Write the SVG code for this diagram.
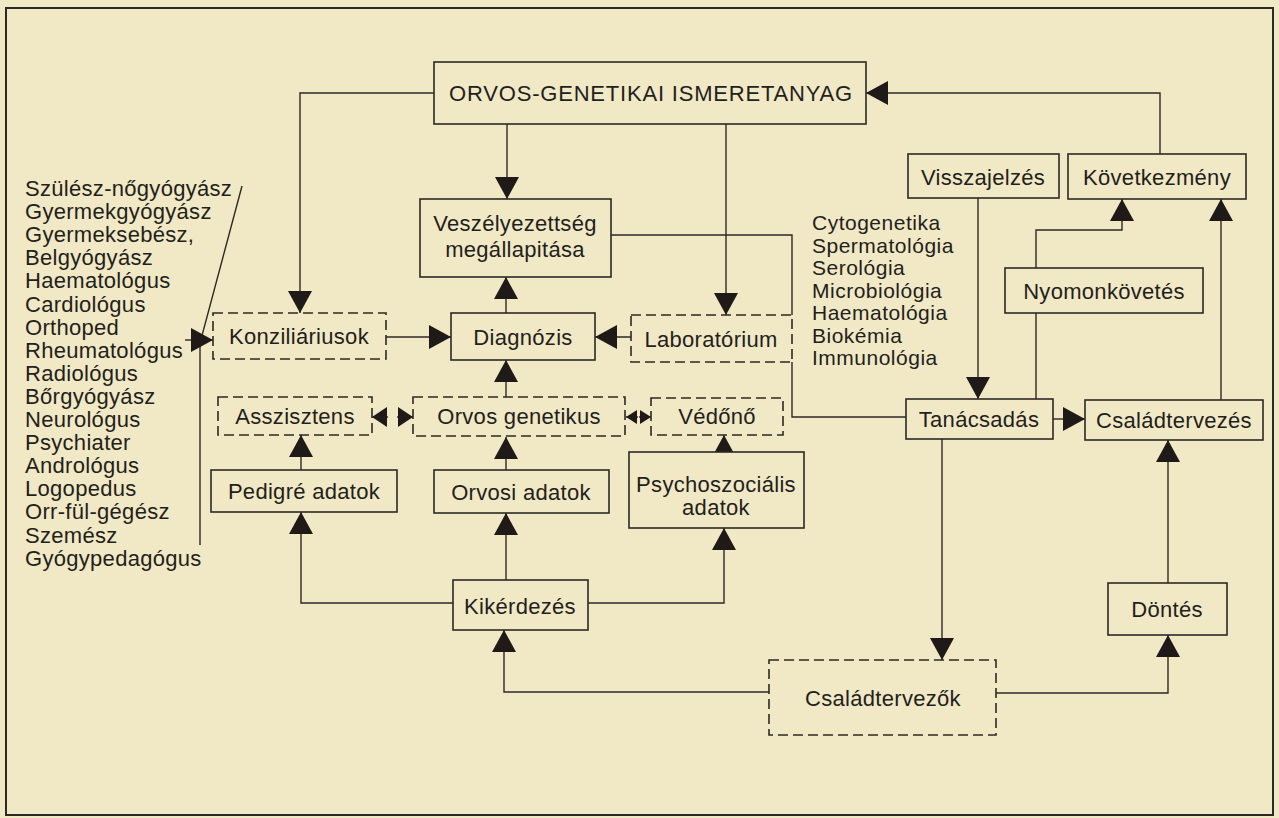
<svg xmlns="http://www.w3.org/2000/svg" width="1279" height="818" viewBox="0 0 1279 818">
<defs>
<style>
.box{fill:#f1e8c5;stroke:#2e2924;stroke-width:1.6}
.dash{stroke-dasharray:10 5}
.t{font-family:"Liberation Sans",Arial,Helvetica,sans-serif;font-size:22px;fill:#231f1c;text-anchor:middle;letter-spacing:0.3px}
.l{text-anchor:start}
.s{font-size:21px;letter-spacing:0.5px}
.c{fill:none;stroke:#2e2924;stroke-width:1.4}
</style>
<marker id="ah" markerUnits="userSpaceOnUse" markerWidth="22" markerHeight="24" viewBox="0 0 22 24" refX="22" refY="12" orient="auto"><path d="M0,0 L22,12 L0,24 z" fill="#1f1a17"/></marker>
<marker id="sm" markerUnits="userSpaceOnUse" markerWidth="15" markerHeight="20" viewBox="0 0 15 20" refX="15" refY="10" orient="auto"><path d="M0,0 L15,10 L0,20 z" fill="#1f1a17"/></marker>
<marker id="xs" markerUnits="userSpaceOnUse" markerWidth="11" markerHeight="14" viewBox="0 0 11 14" refX="11" refY="7" orient="auto"><path d="M0,0 L11,7 L0,14 z" fill="#1f1a17"/></marker>
</defs>
<rect x="0" y="0" width="1279" height="818" fill="#f1e8c5"/>
<rect x="6" y="8" width="1267" height="807" fill="none" stroke="#2e2924" stroke-width="2"/>

<g id="connectors">
<path class="c" d="M434,93 H300 V313" marker-end="url(#ah)"/>
<path class="c" d="M507,124 V199" marker-end="url(#ah)"/>
<path class="c" d="M726,124 V315" marker-end="url(#ah)"/>
<path class="c" d="M1160,154 V93 H866" marker-end="url(#ah)"/>
<path class="c" d="M611,235 H792 V315 M792,362 V417 H906"/>
<path class="c" d="M506,313 V277" marker-end="url(#ah)"/>
<path class="c" d="M386,337 H451" marker-end="url(#ah)"/>
<path class="c" d="M631,337 H595" marker-end="url(#ah)"/>
<path class="c" d="M506,397 V360" marker-end="url(#ah)"/>
<path class="c" d="M388,417 H372" marker-end="url(#sm)"/>
<path class="c" d="M397,417 H413" marker-end="url(#sm)"/>
<path class="c" d="M638,417 H626" marker-end="url(#xs)"/>
<path class="c" d="M639,417 H651" marker-end="url(#xs)"/>
<path class="c" d="M301,470 V435" marker-end="url(#ah)"/>
<path class="c" d="M506,470 V437" marker-end="url(#ah)"/>
<path class="c" d="M724,452 V435" marker-end="url(#ah)"/>
<path class="c" d="M453,603 H301 V512" marker-end="url(#ah)"/>
<path class="c" d="M506,580 V513" marker-end="url(#ah)"/>
<path class="c" d="M588,603 H724 V528" marker-end="url(#ah)"/>
<path class="c" d="M769,692 H504 V630" marker-end="url(#ah)"/>
<path class="c" d="M942,439 V660" marker-end="url(#ah)"/>
<path class="c" d="M996,693 H1168 V635" marker-end="url(#ah)"/>
<path class="c" d="M1168,583 V440" marker-end="url(#ah)"/>
<path class="c" d="M1053,419 H1085" marker-end="url(#ah)"/>
<path class="c" d="M978,198 V399" marker-end="url(#ah)"/>
<path class="c" d="M1036,399 V230 H1122 V199" marker-end="url(#ah)"/>
<path class="c" d="M1221,400 V199" marker-end="url(#ah)"/>
<path class="c" d="M242,186 L200,343 V545"/>
<path class="c" d="M185,340 H213" marker-end="url(#ah)"/>
</g>

<g id="n-ismeretanyag"><rect class="box" x="434" y="62" width="432" height="62"/><text class="t" x="651" y="101" style="letter-spacing:0.8px">ORVOS-GENETIKAI ISMERETANYAG</text></g>
<g id="n-veszely"><rect class="box" x="420" y="199" width="191" height="78"/><text class="t" x="515" y="231">Veszélyezettség</text><text class="t" x="515" y="257">megállapitása</text></g>
<g id="n-konzil"><rect class="box dash" x="213" y="313" width="173" height="46"/><text class="t" x="299" y="344">Konziliáriusok</text></g>
<g id="n-diagnozis"><rect class="box" x="451" y="313" width="144" height="47"/><text class="t" x="523" y="345">Diagnózis</text></g>
<g id="n-labor"><rect class="box dash" x="631" y="315" width="161" height="47"/><text class="t" x="711" y="347">Laboratórium</text></g>
<g id="n-asszisztens"><rect class="box dash" x="218" y="397" width="154" height="38"/><text class="t" x="295" y="424">Asszisztens</text></g>
<g id="n-orvosgen"><rect class="box dash" x="413" y="397" width="212" height="39"/><text class="t" x="519" y="424">Orvos genetikus</text></g>
<g id="n-vedono"><rect class="box dash" x="651" y="398" width="132" height="37"/><text class="t" x="717" y="424">Védőnő</text></g>
<g id="n-pedigre"><rect class="box" x="211" y="470" width="186" height="42"/><text class="t" x="304" y="499">Pedigré adatok</text></g>
<g id="n-orvosi"><rect class="box" x="434" y="470" width="175" height="43"/><text class="t" x="521" y="500">Orvosi adatok</text></g>
<g id="n-psycho"><rect class="box" x="629" y="452" width="175" height="76"/><text class="t" x="716" y="492">Psychoszociális</text><text class="t" x="716" y="515">adatok</text></g>
<g id="n-kikerdezes"><rect class="box" x="453" y="580" width="135" height="50"/><text class="t" x="520" y="614">Kikérdezés</text></g>
<g id="n-csaladtervezok"><rect class="box dash" x="769" y="660" width="227" height="75"/><text class="t" x="883" y="706">Családtervezők</text></g>
<g id="n-visszajelzes"><rect class="box" x="908" y="154" width="151" height="44"/><text class="t" x="983" y="185">Visszajelzés</text></g>
<g id="n-kovetkezmeny"><rect class="box" x="1068" y="154" width="178" height="45"/><text class="t" x="1157" y="185">Következmény</text></g>
<g id="n-nyomon"><rect class="box" x="1005" y="268" width="198" height="45"/><text class="t" x="1104" y="299">Nyomonkövetés</text></g>
<g id="n-tanacsadas"><rect class="box" x="906" y="399" width="147" height="40"/><text class="t" x="979" y="427">Tanácsadás</text></g>
<g id="n-csaladtervezes"><rect class="box" x="1085" y="400" width="178" height="40"/><text class="t" x="1174" y="428">Családtervezés</text></g>
<g id="n-dontes"><rect class="box" x="1108" y="583" width="119" height="52"/><text class="t" x="1167" y="617">Döntés</text></g>

<g id="list-szakorvosok">
<text class="t l" x="25" y="196">Szülész-nőgyógyász</text>
<text class="t l" x="25" y="219">Gyermekgyógyász</text>
<text class="t l" x="25" y="242">Gyermeksebész,</text>
<text class="t l" x="25" y="265">Belgyógyász</text>
<text class="t l" x="25" y="288">Haematológus</text>
<text class="t l" x="25" y="312">Cardiológus</text>
<text class="t l" x="25" y="335">Orthoped</text>
<text class="t l" x="25" y="358">Rheumatológus</text>
<text class="t l" x="25" y="381">Radiológus</text>
<text class="t l" x="25" y="404">Bőrgyógyász</text>
<text class="t l" x="25" y="427">Neurológus</text>
<text class="t l" x="25" y="450">Psychiater</text>
<text class="t l" x="25" y="473">Andrológus</text>
<text class="t l" x="25" y="496">Logopedus</text>
<text class="t l" x="25" y="519">Orr-fül-gégész</text>
<text class="t l" x="25" y="543">Szemész</text>
<text class="t l" x="25" y="566">Gyógypedagógus</text>
</g>

<g id="list-labor">
<text class="t l s" x="812" y="230">Cytogenetika</text>
<text class="t l s" x="812" y="252.5">Spermatológia</text>
<text class="t l s" x="812" y="275">Serológia</text>
<text class="t l s" x="812" y="297.5">Microbiológia</text>
<text class="t l s" x="812" y="320">Haematológia</text>
<text class="t l s" x="812" y="342.5">Biokémia</text>
<text class="t l s" x="812" y="365">Immunológia</text>
</g>
</svg>
